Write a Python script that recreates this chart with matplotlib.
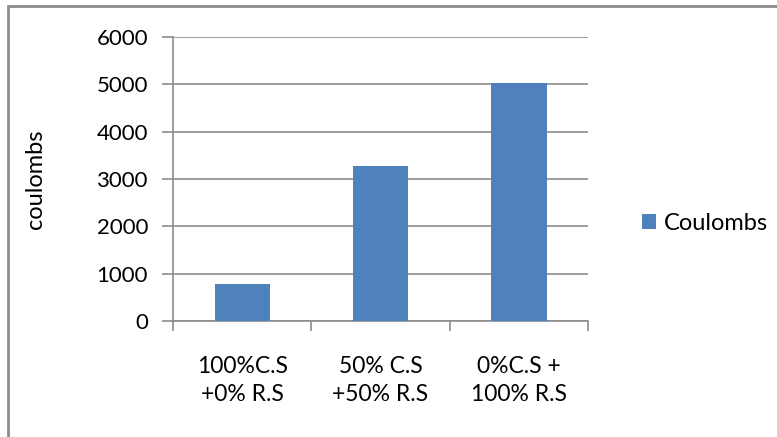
import numpy as np
import matplotlib
matplotlib.use('Agg')
import matplotlib.pyplot as plt
from matplotlib.patches import Rectangle

plt.rcParams['font.family'] = ['Lato', 'DejaVu Sans']

categories = ['100%C.S\n+0% R.S', '50% C.S\n+50% R.S', '0%C.S +\n100% R.S']
coulombs = [790, 3270, 5020]
yticks = [0, 1000, 2000, 3000, 4000, 5000, 6000]

W, H = 777, 437
fig = plt.figure(figsize=(W / 100, H / 100), dpi=100)
ax = fig.add_axes([173 / W, 1 - 321 / H, (588 - 173) / W, (321 - 37) / H])

x = np.arange(len(categories))
bars = ax.bar(x, coulombs, width=0.4, color='#4F81BD', label='Coulombs', zorder=3)

ax.set_xlim(-0.5, 2.5)
ax.set_ylim(0, 6000)
ax.set_yticks(yticks)
ax.set_yticklabels([str(v) for v in yticks], fontsize=16)
ax.yaxis.grid(True, color='#8c8c8c', linewidth=1.2, zorder=0)

ax.set_xticks(x)
ax.set_xticklabels(categories, fontsize=16.5, linespacing=1.45)
ax.set_xticks([-0.5, 0.5, 1.5, 2.5], minor=True)
ax.tick_params(axis='x', which='major', length=0, pad=25)
ax.tick_params(axis='x', which='minor', length=7, color='#8c8c8c', width=1.2, direction='out')
ax.tick_params(axis='y', length=8, color='#8c8c8c', width=1.2, pad=10)

for s in ['top', 'right']:
    ax.spines[s].set_visible(False)
for s in ['left', 'bottom']:
    ax.spines[s].set_color('#8c8c8c')
    ax.spines[s].set_linewidth(1.2)

ax.set_ylabel('coulombs', fontsize=17)
ax.yaxis.set_label_coords((46 - 173) / 415, 0.5)

fig.legend(handles=[bars], labels=['Coulombs'], loc='center left',
           bbox_to_anchor=(630 / W, 1 - 223 / H), frameon=False, fontsize=17,
           handlelength=0.6, handleheight=0.6, handletextpad=0.35, borderpad=0)

# outer chart border (only left and top visible in the crop)
fig.patches.append(Rectangle((8 / W, -0.1), 1.2, 1 - 6 / H + 0.1, transform=fig.transFigure,
                             fill=False, edgecolor='#8c8c8c', linewidth=2))

fig.savefig('out.png', dpi=100)
